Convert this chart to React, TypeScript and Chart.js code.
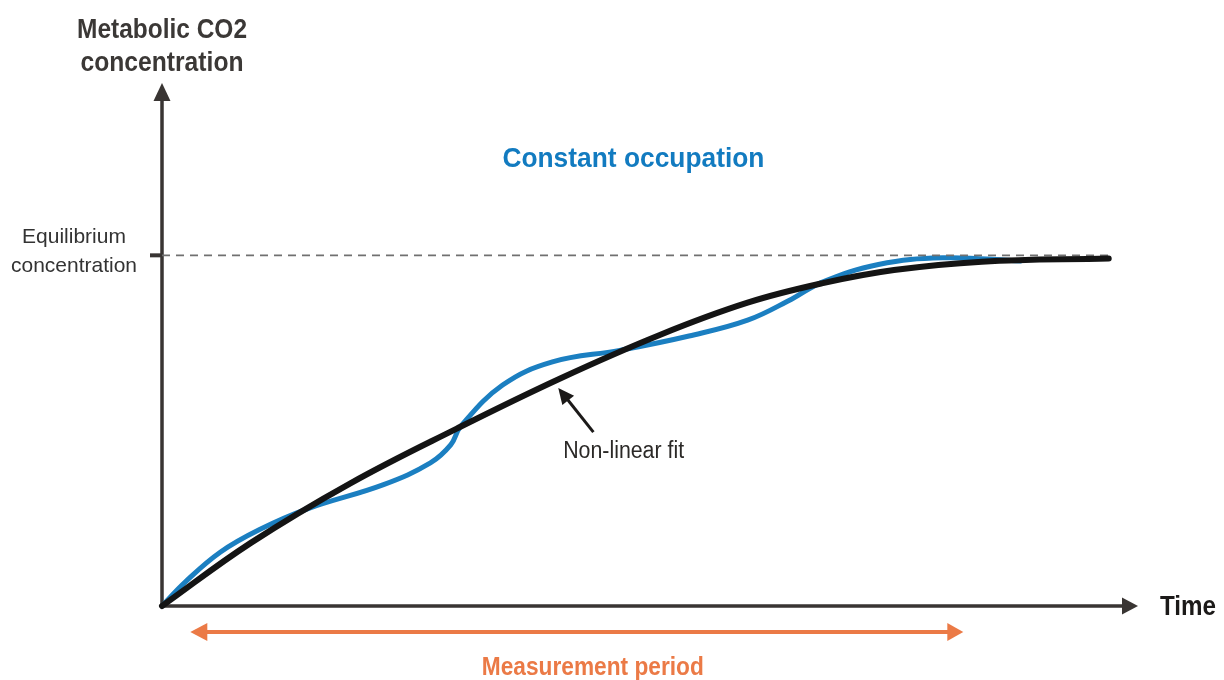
import { useEffect, useRef } from "react";
import { Chart, registerables } from "chart.js";
Chart.register(...registerables);

// Non-linear fit curve (time, concentration) – equilibrium = 100
const fitX = [0, 9.1, 19.3, 30.2, 40.8, 51.0, 60.0, 67.6, 75.0, 84.0, 97.0];
const fitY = [0, 18.0, 35.0, 50.6, 64.9, 77.3, 86.5, 92.0, 95.8, 98.2, 99.1];

// Measured CO2 (constant occupation)
const measX = [0, 2.4, 6.0, 10.0, 14.9, 22.7, 27.5, 29.6, 30.6, 34.9, 40.0, 46.9, 54.0, 60.0, 64.5, 67.6, 73.4, 80.0, 88.0];
const measY = [0, 6.9, 15.4, 21.8, 27.7, 34.6, 40.8, 46.0, 51.2, 63.0, 69.6, 72.9, 77.0, 81.5, 87.5, 92.3, 97.4, 99.3, 98.4];

// Equilibrium reference line
const equilibriumValue = 100;
const equilibriumX = [0, 97.0];
const equilibriumLabel = ["Equilibrium", "concentration"];

// Axis titles and annotations
const yTitle = ["Metabolic CO2", "concentration"];
const xTitle = "Time";
const seriesTitle = "Constant occupation";
const fitLabel = "Non-linear fit";
const fitArrowTail = { x: 44.2, y: 49.6 };
const fitArrowTip = { x: 40.6, y: 62.2 };
const measurementLabel = "Measurement period";
const measurementStart = 2.9;
const measurementEnd = 82.1;

const FONT = "'Liberation Sans', Arial, sans-serif";

function txt(ctx: CanvasRenderingContext2D, s: string, x: number, y: number, font: string, color: string, align: CanvasTextAlign, maxW?: number) {
  ctx.save();
  ctx.font = font;
  ctx.fillStyle = color;
  ctx.textAlign = align;
  ctx.textBaseline = "alphabetic";
  if (maxW) ctx.fillText(s, x, y, maxW);
  else ctx.fillText(s, x, y);
  ctx.restore();
}

function arrowHead(ctx: CanvasRenderingContext2D, tipX: number, tipY: number, fromX: number, fromY: number, len: number, half: number, color: string) {
  const a = Math.atan2(tipY - fromY, tipX - fromX);
  const bx = tipX - len * Math.cos(a);
  const by = tipY - len * Math.sin(a);
  const px = -Math.sin(a) * half;
  const py = Math.cos(a) * half;
  ctx.save();
  ctx.fillStyle = color;
  ctx.beginPath();
  ctx.moveTo(tipX, tipY);
  ctx.lineTo(bx + px, by + py);
  ctx.lineTo(bx - px, by - py);
  ctx.closePath();
  ctx.fill();
  ctx.restore();
}

const diagramPlugin = {
  id: "diagram",
  beforeDatasetsDraw(chart: any) {
    const ctx: CanvasRenderingContext2D = chart.ctx;
    const { left, right, top, bottom } = chart.chartArea;
    const ys = chart.scales.y;
    const axisColor = "#393533";
    ctx.save();
    ctx.strokeStyle = axisColor;
    ctx.lineWidth = 3.5;
    ctx.beginPath();
    ctx.moveTo(left, bottom + 1);
    ctx.lineTo(left, top + 18);
    ctx.moveTo(left - 1.5, bottom);
    ctx.lineTo(right - 14, bottom);
    ctx.stroke();
    arrowHead(ctx, left, top + 3, left, bottom, 18, 8.5, axisColor);
    arrowHead(ctx, right, bottom, left, bottom, 16, 8.5, axisColor);
    // equilibrium tick
    const ey = ys.getPixelForValue(equilibriumValue);
    ctx.lineWidth = 4;
    ctx.beginPath();
    ctx.moveTo(left - 12, ey);
    ctx.lineTo(left, ey);
    ctx.stroke();
    ctx.restore();
  },
  afterDatasetsDraw(chart: any) {
    const ctx: CanvasRenderingContext2D = chart.ctx;
    const { left, right, top, bottom } = chart.chartArea;
    const xs = chart.scales.x;
    const ys = chart.scales.y;
    const ey = ys.getPixelForValue(equilibriumValue);

    // y-axis title
    txt(ctx, yTitle[0], left, 38, `bold 27px ${FONT}`, "#3b3836", "center", 170);
    txt(ctx, yTitle[1], left, 71, `bold 27px ${FONT}`, "#3b3836", "center", 163);
    // equilibrium label
    txt(ctx, equilibriumLabel[0], left - 88, ey - 12, `21px ${FONT}`, "#333333", "center", 106);
    txt(ctx, equilibriumLabel[1], left - 88, ey + 17, `21px ${FONT}`, "#333333", "center", 126);
    // x-axis title
    txt(ctx, xTitle, right + 22, bottom + 9, `bold 27px ${FONT}`, "#1c1a19", "left", 56);
    // series title
    txt(ctx, seriesTitle, xs.getPixelForValue(48.3), top + 87, `bold 27px ${FONT}`, "#127bc0", "center", 262);

    // non-linear fit annotation
    const tx = xs.getPixelForValue(fitArrowTail.x), ty = ys.getPixelForValue(fitArrowTail.y);
    const hx = xs.getPixelForValue(fitArrowTip.x), hy = ys.getPixelForValue(fitArrowTip.y);
    ctx.save();
    ctx.strokeStyle = "#1c1a19";
    ctx.lineWidth = 3;
    ctx.beginPath();
    ctx.moveTo(tx, ty);
    const a = Math.atan2(hy - ty, hx - tx);
    ctx.lineTo(hx - 12 * Math.cos(a), hy - 12 * Math.sin(a));
    ctx.stroke();
    ctx.restore();
    arrowHead(ctx, hx, hy, tx, ty, 16, 7.5, "#1c1a19");
    txt(ctx, fitLabel, xs.getPixelForValue(41.1), ty + 26, `23px ${FONT}`, "#2b2927", "left", 121);

    // measurement period arrow
    const mx0 = xs.getPixelForValue(measurementStart);
    const mx1 = xs.getPixelForValue(measurementEnd);
    const my = bottom + 26;
    const orange = "#eb7a46";
    ctx.save();
    ctx.strokeStyle = orange;
    ctx.lineWidth = 4;
    ctx.beginPath();
    ctx.moveTo(mx0 + 12, my);
    ctx.lineTo(mx1 - 12, my);
    ctx.stroke();
    ctx.restore();
    arrowHead(ctx, mx0, my, mx1, my, 17, 9, orange);
    arrowHead(ctx, mx1, my, mx0, my, 16, 9, orange);
    txt(ctx, measurementLabel, (mx0 + mx1) / 2 + 16, bottom + 69, `bold 26px ${FONT}`, orange, "center", 222);
  },
};

export default function App() {
  const ref = useRef<HTMLCanvasElement | null>(null);
  useEffect(() => {
    if (!ref.current) return;
    const chart = new Chart(ref.current, {
      type: "line",
      data: {
        datasets: [
          {
            label: "Non-linear fit",
            data: fitX.map((x, i) => ({ x, y: fitY[i] })),
            borderColor: "#141414",
            borderWidth: 6,
            borderCapStyle: "round",
            tension: 0.4,
            pointRadius: 0,
            clip: false,
          } as any,
          {
            label: "Equilibrium",
            data: equilibriumX.map((x) => ({ x, y: equilibriumValue })),
            borderColor: "#707070",
            borderWidth: 1.6,
            borderDash: [8, 6],
            pointRadius: 0,
            clip: false,
          } as any,
          {
            label: "Measured",
            data: measX.map((x, i) => ({ x, y: measY[i] })),
            borderColor: "#1b7fc1",
            borderWidth: 5,
            borderCapStyle: "round",
            tension: 0.4,
            pointRadius: 0,
            clip: false,
          } as any,
        ],
      },
      options: {
        animation: false,
        responsive: false,
        devicePixelRatio: 1,
        layout: { padding: { left: 162, right: 86, top: 80, bottom: 74 } },
        scales: {
          x: { type: "linear", min: 0, max: 100, display: false },
          y: { type: "linear", min: 0, max: 150, display: false },
        },
        plugins: { legend: { display: false }, tooltip: { enabled: false } },
        events: [],
      },
      plugins: [diagramPlugin],
    });
    return () => chart.destroy();
  }, []);
  return (
    <div style={{ position: "fixed", left: 0, top: 0, width: 1224, height: 680, background: "#ffffff" }}>
      <canvas ref={ref} width={1224} height={680} style={{ display: "block" }} />
    </div>
  );
}
